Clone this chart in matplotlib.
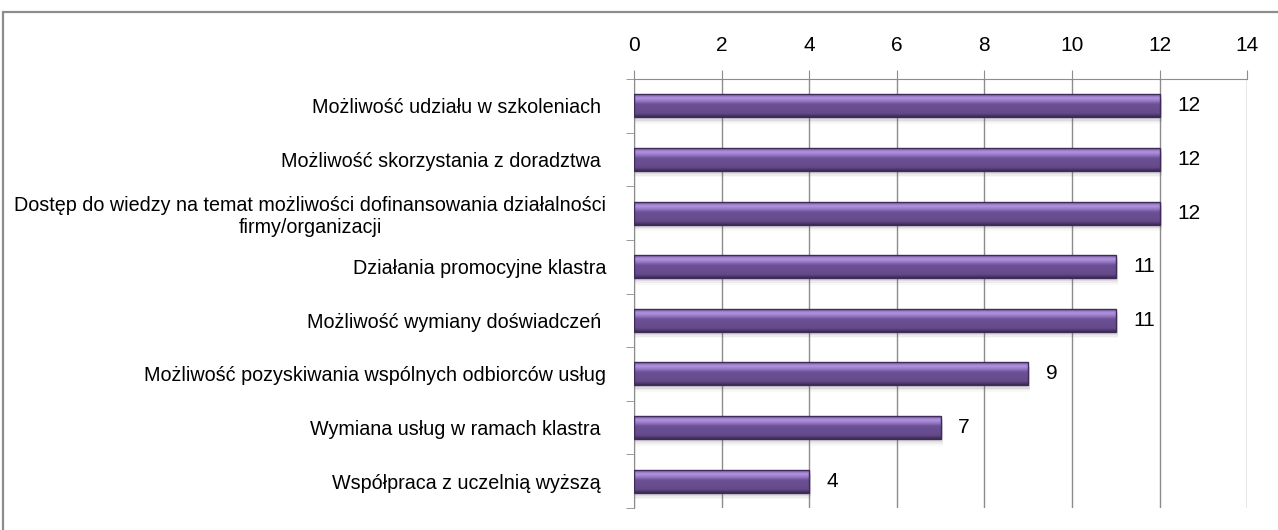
import matplotlib
matplotlib.use('Agg')
import matplotlib.pyplot as plt
import numpy as np
from matplotlib.colors import LinearSegmentedColormap
from matplotlib.patches import Rectangle

# data (top to bottom)
categories = [
    'Możliwość udziału w szkoleniach ',
    'Możliwość skorzystania z doradztwa ',
    'Dostęp do wiedzy na temat możliwości dofinansowania działalności\nfirmy/organizacji',
    'Działania promocyjne klastra',
    'Możliwość wymiany doświadczeń ',
    'Możliwość pozyskiwania wspólnych odbiorców usług',
    'Wymiana usług w ramach klastra ',
    'Współpraca z uczelnią wyższą ',
]
values = [12, 12, 12, 11, 11, 9, 7, 4]
xticks = [0, 2, 4, 6, 8, 10, 12, 14]

plt.rcParams['font.family'] = ['Liberation Sans', 'DejaVu Sans']

fig = plt.figure(figsize=(12.78, 5.30), dpi=100)
ax = fig.add_axes([0.4962, 0.0415, 0.4796, 0.8094])

# outer chart frame
fig.patches.append(Rectangle((3 / 1278, -0.05), 1.1, 1 - 12 / 530 + 0.05,
                             transform=fig.transFigure, fill=False,
                             edgecolor='#8c8c8c', linewidth=1.6, zorder=0))

ypos = np.arange(len(categories))
bar_h = 0.43

# bevelled purple gradient, top -> bottom
grad = LinearSegmentedColormap.from_list('bev', [
    (0.00, '#4a3470'), (0.07, '#8466b0'), (0.20, '#b294e0'),
    (0.33, '#9677c4'), (0.46, '#6c5096'), (0.85, '#654a8a'),
    (1.00, '#3b2856')])
gimg = np.linspace(0, 1, 64).reshape(-1, 1)

for y, v in zip(ypos, values):
    # soft shadow under the bar
    for k, a in enumerate([0.10, 0.07, 0.04]):
        ax.barh(y + 0.06 + k * 0.03, v + 0.05, height=bar_h,
                color='#555555', alpha=a, linewidth=0, zorder=2)
    b = ax.barh(y, v, height=bar_h, color='none',
                edgecolor='#3e2b5a', linewidth=1.0, zorder=4)[0]
    im = ax.imshow(gimg, cmap=grad, aspect='auto', zorder=3,
                   extent=(0, v, y + bar_h / 2, y - bar_h / 2),
                   interpolation='bilinear')
    im.set_clip_path(b)
    ax.text(v + 0.40, y, str(v), va='center', ha='left', fontsize=15,
            color='black')

ax.set_xlim(0, 14)
ax.set_ylim(len(categories) - 0.5, -0.5)
ax.set_xticks(xticks)
ax.xaxis.tick_top()
ax.tick_params(axis='x', length=6.5, color='#8c8c8c', labelsize=15, pad=11)

ax.set_yticks(ypos)
ax.set_yticklabels(categories, fontsize=14.2, ha='right',
                   multialignment='center')
ax.set_yticks(np.arange(len(categories) + 1) - 0.5, minor=True)
ax.tick_params(axis='y', which='major', length=0, pad=20)
ax.tick_params(axis='y', which='minor', length=5.5, color='#8c8c8c')

ax.grid(axis='x', color='#8c8c8c', linewidth=1.0, zorder=0)
ax.set_axisbelow(True)
for s in ['right', 'bottom']:
    ax.spines[s].set_visible(False)
ax.spines['top'].set_color('#8c8c8c')
ax.spines['left'].set_color('#8c8c8c')

fig.savefig('out.png', dpi=100)
